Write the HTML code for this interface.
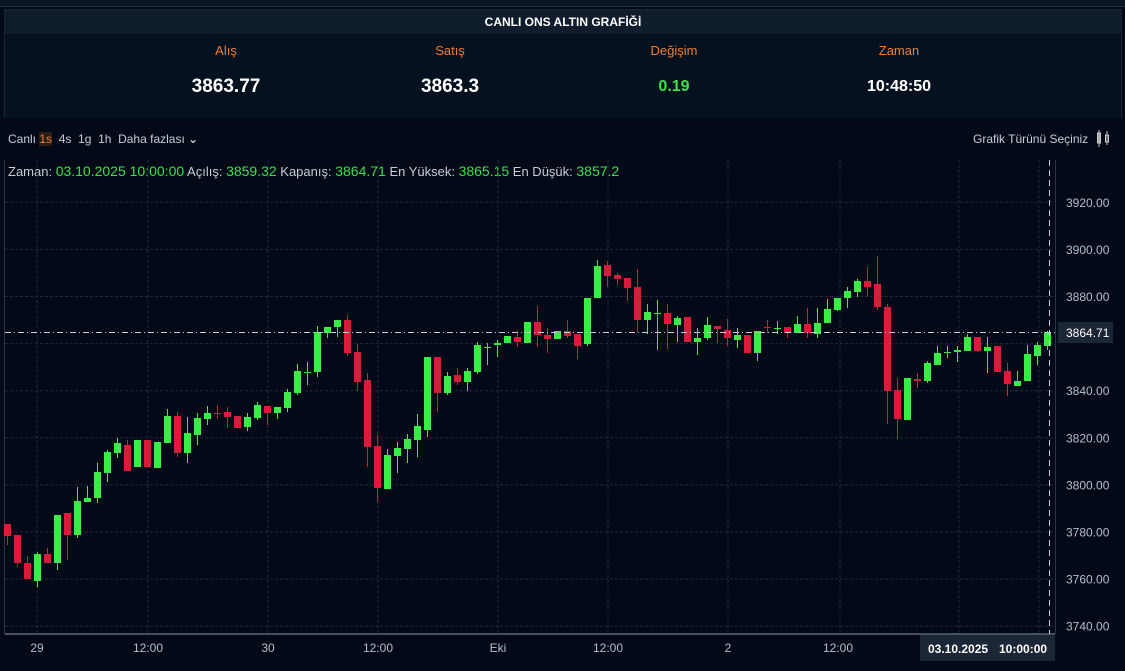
<!DOCTYPE html>
<html><head><meta charset="utf-8">
<style>
html,body{margin:0;padding:0;background:#020a18;width:1125px;height:671px;overflow:hidden;font-family:"Liberation Sans","DejaVu Sans",sans-serif;}
#top{position:absolute;left:0;top:0;width:1125px;height:6px;background:#0b1424;border-bottom:1px solid #243042;}
#panel{position:absolute;left:4px;top:9px;width:1116px;height:108px;background:#061120;border:1px solid #1a2638;border-bottom:none;}
#title{height:24px;background:#0e1c2b;color:#fff;font-weight:bold;font-size:12px;text-align:center;line-height:24px;}
.col{position:absolute;width:200px;text-align:center;}
.lab{color:#f07f2e;font-size:13px;top:34px;}
.val{color:#fff;font-weight:bold;font-size:19px;top:68px;}
.t{position:absolute;font-size:12px;color:#c8ccd4;white-space:nowrap;}
.g{color:#3de04a;font-size:14px;}
</style></head><body>
<div id="top"></div>
<div id="panel"><div id="title">CANLI ONS ALTIN GRAFİĞİ</div></div>
<div class="col lab" style="left:126px;top:43px">Alış</div>
<div class="col lab" style="left:350px;top:43px">Satış</div>
<div class="col lab" style="left:574px;top:43px">Değişim</div>
<div class="col lab" style="left:799px;top:43px">Zaman</div>
<div class="col val" style="left:126px;top:76px">3863.77</div>
<div class="col val" style="left:350px;top:76px">3863.3</div>
<div class="col val" style="left:574px;top:78px;color:#3de04a;font-size:16px">0.19</div>
<div class="col val" style="left:799px;top:78px;font-size:16px">10:48:50</div>
<div class="t" style="left:8px;top:132px">Canlı <span style="color:#f07f2e;background:#2a1e14">1s</span>&nbsp; 4s&nbsp; 1g&nbsp; 1h&nbsp; Daha fazlası <b>&#8964;</b></div>
<div class="t" style="left:973px;top:132px">Grafik Türünü Seçiniz</div>
<svg style="position:absolute;left:1096px;top:129px" width="16" height="20"><rect x="1.5" y="4" width="3" height="10" fill="#888" stroke="#ccc"/><line x1="3" y1="1" x2="3" y2="18" stroke="#ccc"/><rect x="9.5" y="6" width="3" height="7" fill="none" stroke="#ccc"/><line x1="11" y1="2" x2="11" y2="16" stroke="#ccc"/></svg>
<div class="t" style="left:8px;top:163px;font-size:13px">Zaman: <span class="g">03.10.2025 10:00:00</span> Açılış: <span class="g">3859.32</span> Kapanış: <span class="g">3864.71</span> En Yüksek: <span class="g">3865.15</span> En Düşük: <span class="g">3857.2</span></div>
<svg id="ch" style="position:absolute;left:0;top:0" width="1125" height="671"></svg>
<script>
var d=[
['r',524,536,524,545],['r',535,563,535,567],['r',563,579,556,579],['g',554,581,552,587],['r',554,563,548,563],
['g',515,563,515,570],['r',513,535,513,560],['g',501,535,487,538],['g',498,502,486,502],['g',472,498,463,503],
['g',452,473,450,482],['g',443,453,438,458],['r',445,471,440,471],['g',440,467,440,467],['r',440,467,440,467],
['g',442,468,442,468],['g',416,443,409,443],['r',416,453,412,457],['g',433,453,417,463],['g',418,435,413,445],
['g',413,419,406,425],['r',413,414,405,419],['r',412,417,407,428],['r',416,428,416,428],['g',417,427,413,431],
['g',405,418,402,420],['r',406,413,406,425],['g',407,413,407,419],['g',392,408,389,412],['g',371,393,364,395],
['g',372,373,362,385],['g',332,372,326,377],['g',327,333,327,338],['g',320,327,320,337],['r',320,353,315,356],
['r',352,382,344,391],['r',380,447,373,467],['r',446,488,434,502],['g',455,489,449,489],['g',448,456,442,473],
['g',439,449,434,463],['g',426,440,414,457],['g',357,430,357,437],['r',357,393,357,412],['g',376,393,372,395],
['r',375,382,368,385],['g',371,382,368,391],['g',345,372,342,374],['g',347,348,343,365],['g',343,345,340,357],
['g',336,343,336,343],['r',337,342,331,347],['g',322,343,322,343],['r',322,335,306,347],['r',335,339,328,353],
['g',331,339,331,339],['r',331,336,320,338],['r',334,346,334,359],['g',298,344,298,346],['g',266,298,260,298],
['r',265,276,261,287],['r',275,279,273,285],['r',278,288,278,301],['r',287,320,269,332],['g',312,320,304,334],
['g',313,314,300,350],['r',313,324,304,349],['g',318,325,316,342],['r',317,342,317,342],['g',338,342,328,355],
['g',325,338,317,340],['r',326,329,326,343],['r',330,338,319,346],['g',335,340,328,348],['r',335,353,335,353],
['g',331,353,331,361],['r',327,328,320,333],['g',328,329,321,334],['r',327,333,327,338],['g',324,333,316,333],
['r',324,333,308,338],['g',323,334,308,338],['g',309,323,299,323],['g',298,310,298,311],['g',291,298,287,308],
['g',281,292,279,297],['r',281,287,267,296],['r',284,307,256,310],['r',307,391,304,424],['r',390,419,378,439],
['g',378,420,378,420],['r',379,381,373,388],['g',363,381,361,383],['g',353,365,346,365],['g',352,353,346,358],
['g',350,352,346,362],['g',337,351,334,351],['r',337,351,337,352],['g',347,351,337,373],['r',346,372,346,372],
['r',371,384,363,396],['g',381,386,371,386],['g',354,381,345,381],['g',345,356,342,365],['g',332,346,331,350]];
var s='';
// horizontal grid
for(var i=0;i<10;i++){var y=202.3+i*47.1;s+='<line x1="5" x2="1055" y1="'+y+'" y2="'+y+'" stroke="#1c2a3c" stroke-dasharray="3,2"/>';
 if(i!=3) s+='<text x="1066" y="'+(y+4.5)+'" fill="#b8bec8" font-size="12" font-family="Liberation Sans,sans-serif">'+(3920-i*20)+'.00</text>';}
[37,148,268,378,498,608,728,840,959,1039].forEach(function(x){s+='<line x1="'+x+'" x2="'+x+'" y1="160" y2="634" stroke="#1c2a3c" stroke-dasharray="3,2"/>';});
s+='<line x1="4.5" x2="4.5" y1="160" y2="634" stroke="#2a3648"/>';
s+='<line x1="5" x2="1055" y1="634" y2="634" stroke="#8a96a8"/>';
s+='<line x1="1055.5" x2="1055.5" y1="160" y2="634" stroke="#2a3648"/>';
d.forEach(function(c,i){var x=7+i*10,col=c[0]=='g'?'#37ee45':'#dc1a3c';
 s+='<line x1="'+(x+0.5)+'" x2="'+(x+0.5)+'" y1="'+c[3]+'" y2="'+c[4]+'" stroke="'+col+'"/>';
 s+='<rect x="'+(x-3)+'" y="'+c[1]+'" width="7" height="'+Math.max(1,c[2]-c[1])+'" fill="'+col+'"/>';});
s+='<line x1="5" x2="1055" y1="332.5" y2="332.5" stroke="#c8ccd4" stroke-dasharray="6,3,1,3"/>';
s+='<line x1="1049.5" x2="1049.5" y1="160" y2="634" stroke="#c8ccd4" stroke-dasharray="6,4"/>';
s+='<rect x="1058" y="322" width="55" height="21" fill="#1b2636"/><text x="1066" y="337" fill="#fff" font-size="12" font-family="Liberation Sans,sans-serif">3864.71</text>';
s+='<rect x="920" y="635" width="135" height="26" fill="#1b2636"/><text x="928" y="653" fill="#fff" font-size="12" font-weight="bold" font-family="Liberation Sans,sans-serif">03.10.2025</text><text x="999" y="653" fill="#fff" font-size="12" font-weight="bold" font-family="Liberation Sans,sans-serif">10:00:00</text>';
[[37,'29'],[148,'12:00'],[268,'30'],[378,'12:00'],[498,'Eki'],[608,'12:00'],[728,'2'],[838,'12:00']].forEach(function(t){s+='<text x="'+t[0]+'" y="652" text-anchor="middle" fill="#b8bec8" font-size="12" font-family="Liberation Sans,sans-serif">'+t[1]+'</text>';});
document.getElementById('ch').innerHTML=s;
</script>
</body></html>
